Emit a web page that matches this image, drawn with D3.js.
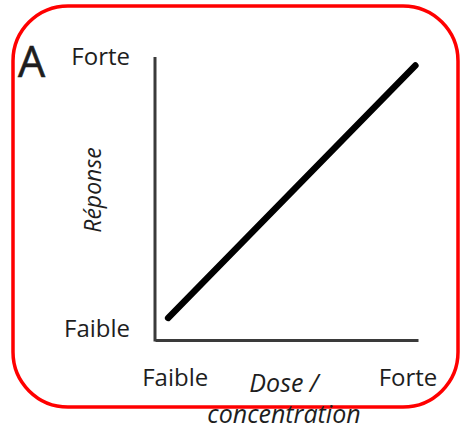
<!DOCTYPE html>
<html>
<head>
<meta charset="utf-8">
<script src="https://cdn.jsdelivr.net/npm/d3@7"></script>
<style>
  html, body { margin: 0; padding: 0; background: #fff; }
  svg text { font-family: "Open Sans", "Noto Sans", sans-serif; fill: #1e1e1e; }
</style>
</head>
<body>
<div id="chart"></div>
<script>
// data
var xTickLabels = ["Faible", "Forte"];
var xTickValues = [0.075, 0.96];
var yTickLabels = ["Faible", "Forte"];
var yTickValues = [0.04, 1.0];
var doseValues = [0.05, 0.99];
var responseValues = [0.078, 0.97];
var panelLabel = "A";
var xTitle = ["Dose /", "concentration"];
var yTitle = "Réponse";

(function () {
    var width = 462, height = 429;
    var svg = d3.select("#chart").append("svg")
        .attr("width", width)
        .attr("height", height);

    // red rounded frame
    svg.append("rect")
        .attr("x", 13).attr("y", 6)
        .attr("width", 445).attr("height", 401)
        .attr("rx", 55).attr("ry", 55)
        .attr("fill", "none")
        .attr("stroke", "#ff0000")
        .attr("stroke-width", 3.5);

    var x = d3.scaleLinear().domain([0, 1]).range([155, 418]);
    var y = d3.scaleLinear().domain([0, 1]).range([340, 57]);

    // axes: plain lines, labels in place of ticks
    var yAxis = d3.axisLeft(y)
        .tickValues(yTickValues)
        .tickFormat(function (d, i) { return yTickLabels[i]; })
        .tickSize(0).tickPadding(25);
    var gy = svg.append("g").attr("transform", "translate(" + x(0) + ",0)").call(yAxis);

    var xAxis = d3.axisBottom(x)
        .tickValues(xTickValues)
        .tickFormat(function (d, i) { return xTickLabels[i]; })
        .tickSize(0).tickPadding(29);
    var gx = svg.append("g").attr("transform", "translate(0," + y(0) + ")").call(xAxis);

    [gx, gy].forEach(function (g) {
        g.select(".domain").attr("stroke", "#3a3a3a").attr("stroke-width", 3);
        g.selectAll("text")
            .attr("font-family", "Open Sans, Noto Sans, sans-serif")
            .attr("font-size", 24)
            .attr("fill", "#1e1e1e");
    });
    gy.select(".domain").attr("d", "M0," + (y(0) + 1.5) + "V" + y(1));

    // response line
    var pts = doseValues.map(function (d, i) { return [d, responseValues[i]]; });
    svg.append("path")
        .datum(pts)
        .attr("fill", "none")
        .attr("stroke", "#000")
        .attr("stroke-width", 6.5)
        .attr("stroke-linecap", "round")
        .attr("d", d3.line().x(function (d) { return x(d[0]); }).y(function (d) { return y(d[1]); }));

    // panel letter
    svg.append("text")
        .attr("x", 18).attr("y", 77)
        .attr("font-size", 43)
        .attr("stroke", "#1e1e1e").attr("stroke-width", 0.6)
        .text(panelLabel);

    // axis titles
    svg.append("text")
        .attr("transform", "translate(101,190) rotate(-90)")
        .attr("text-anchor", "middle")
        .attr("font-size", 23)
        .attr("font-style", "italic")
        .text(yTitle);

    svg.append("text")
        .attr("x", 284).attr("y", 392)
        .attr("text-anchor", "middle")
        .attr("font-size", 25)
        .attr("font-style", "italic")
        .text(xTitle[0]);
    svg.append("text")
        .attr("x", 284).attr("y", 423)
        .attr("text-anchor", "middle")
        .attr("font-size", 25)
        .attr("font-style", "italic")
        .text(xTitle[1]);
})();
</script>
</body>
</html>
